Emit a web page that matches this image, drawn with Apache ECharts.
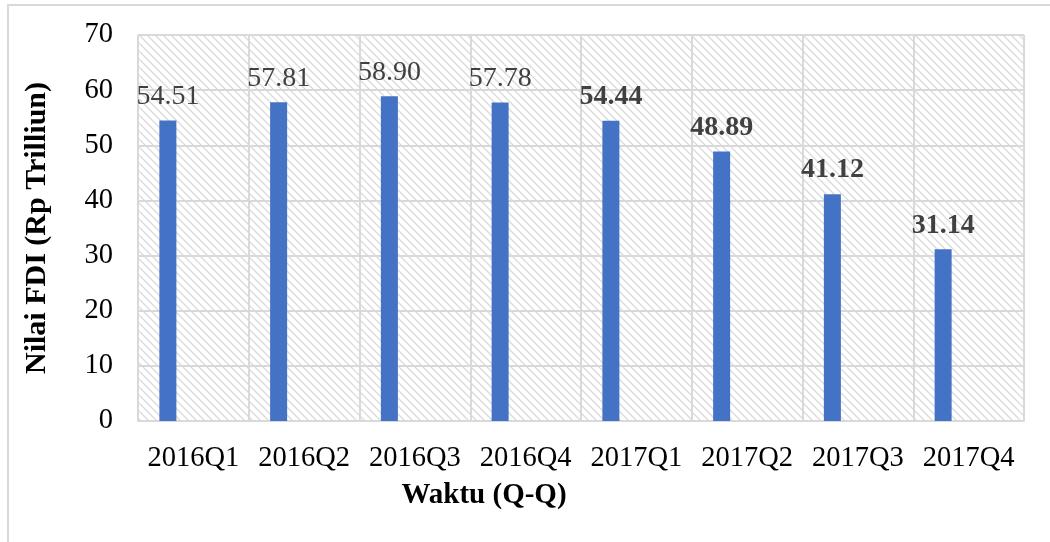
<!DOCTYPE html>
<html>
<head>
<meta charset="utf-8">
<script src="https://cdn.jsdelivr.net/npm/echarts@6/dist/echarts.min.js"></script>
<style>html,body{margin:0;padding:0;background:#fff}#c{width:1050px;height:542px}</style>
</head>
<body>
<div id="c"></div>
<script>
const categories = ['2016Q1','2016Q2','2016Q3','2016Q4','2017Q1','2017Q2','2017Q3','2017Q4'];
const fdiValues = [54.51, 57.81, 58.90, 57.78, 54.44, 48.89, 41.12, 31.14];
const yTicks = [0, 10, 20, 30, 40, 50, 60, 70];
const yTitle = 'Nilai FDI (Rp Trilliun)';
const xTitle = 'Waktu (Q-Q)';

const FONT = "'Liberation Serif', 'Times New Roman', serif";

// hatch pattern
const pc = document.createElement('canvas');
pc.width = 8; pc.height = 8;
const g = pc.getContext('2d');
g.fillStyle = '#ffffff'; g.fillRect(0,0,8,8);
g.strokeStyle = '#dadada'; g.lineWidth = 1.3;
g.beginPath();
g.moveTo(-1,-1); g.lineTo(9,9);
g.moveTo(-1,7); g.lineTo(1,9);
g.moveTo(7,-1); g.lineTo(9,1);
g.stroke();

const chart = echarts.init(document.getElementById('c'), null, {renderer: 'canvas'});

const mainData = fdiValues.map((v, i) => ({
  value: v,
  label: { fontWeight: i >= 4 ? 'bold' : 'normal' }
}));

const emptySeries = [1,2,3].map(() => ({ type: 'bar', data: [], barWidth: 17, barGap: '0%' }));

chart.setOption({
  animation: false,
  grid: {
    left: 138, right: 26, top: 35, bottom: 121,
    show: true,
    backgroundColor: { image: pc, repeat: 'repeat' },
    borderWidth: 0
  },
  xAxis: {
    type: 'category',
    data: categories,
    axisLine: { show: true, lineStyle: { color: '#d9d9d9', width: 2 } },
    axisTick: { show: false },
    splitLine: { show: true, lineStyle: { color: '#d9d9d9', width: 2 } },
    axisLabel: { color: '#000', fontFamily: FONT, fontSize: 28.5, margin: 23, interval: 0 }
  },
  yAxis: {
    type: 'value',
    min: yTicks[0], max: yTicks[yTicks.length - 1], interval: 10,
    name: yTitle,
    nameLocation: 'middle',
    nameGap: 86,
    nameTextStyle: { color: '#000', fontFamily: FONT, fontSize: 30, fontWeight: 'bold' },
    axisLine: { show: false },
    axisTick: { show: false },
    splitLine: { show: true, lineStyle: { color: '#d9d9d9', width: 2 } },
    axisLabel: { color: '#000', fontFamily: FONT, fontSize: 28.5, margin: 25 }
  },
  graphic: [
    { type: 'rect', shape: { x: 8, y: 5, width: 1100, height: 600 }, style: { fill: null, stroke: '#d9d9d9', lineWidth: 2 }, silent: true, z: 100 },
    { type: 'text', x: 484, y: 496, style: { text: xTitle, font: "bold 29px " + FONT, fill: '#000', align: 'center', verticalAlign: 'middle' }, z: 100 }
  ],
  series: [{
    type: 'bar',
    data: mainData,
    barWidth: 17,
    barGap: '0%',
    itemStyle: { color: '#4472C4' },
    label: {
      show: true, position: 'top', distance: 10,
      color: '#404040', fontFamily: FONT, fontSize: 28,
      formatter: p => p.value.toFixed(2)
    }
  }].concat(emptySeries)
});
</script>
</body>
</html>
